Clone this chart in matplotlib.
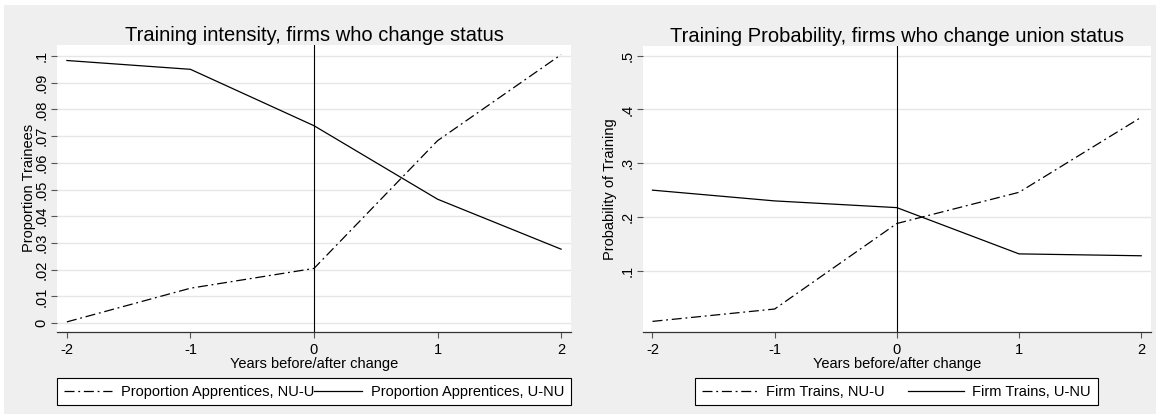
import matplotlib
matplotlib.use("Agg")
import matplotlib.pyplot as plt
from matplotlib.patches import Rectangle

plt.rcParams['font.family'] = ['Liberation Sans', 'DejaVu Sans']

years = [-2, -1, 0, 1, 2]

# left panel: proportion of apprentices
app_nu_u = [0.0005, 0.0131, 0.0205, 0.0683, 0.1005]
app_u_nu = [0.0983, 0.0950, 0.0739, 0.0464, 0.0277]
left_yticks = [0, 0.01, 0.02, 0.03, 0.04, 0.05, 0.06, 0.07, 0.08, 0.09, 0.1]
left_ylabels = ['0', '.01', '.02', '.03', '.04', '.05', '.06', '.07', '.08', '.09', '.1']

# right panel: probability that firm trains
prob_nu_u = [0.006, 0.029, 0.188, 0.246, 0.3855]
prob_u_nu = [0.250, 0.230, 0.2175, 0.1315, 0.128]
right_yticks = [0.1, 0.2, 0.3, 0.4, 0.5]
right_ylabels = ['.1', '.2', '.3', '.4', '.5']

W, H = 1160, 418
bg = '#efefef'
dashdot = (0, (8, 3, 1.5, 3))

fig = plt.figure(figsize=(W / 100, H / 100), dpi=100)
fig.patch.set_facecolor('white')
fig.patches.append(Rectangle((4 / W, 4 / H), 1152 / W, 409 / H, transform=fig.transFigure,
                             facecolor=bg, edgecolor='none', zorder=-10))


def panel(rect, ylim, ticks, ticklabels, nuu, unu, title, ylabel, ylab_x,
          labels, leg_x, hlen, colsp):
    ax = fig.add_axes(rect)
    ax.set_facecolor('white')
    ax.set_xlim(-2.08, 2.08)
    ax.set_ylim(*ylim)
    for t in ticks:
        ax.axhline(t, color='#e6e6e6', lw=1.0, zorder=0)
    ax.axvline(0, color='black', lw=0.8, zorder=1)
    l1, = ax.plot(years, nuu, color='black', lw=0.9, linestyle=dashdot, zorder=2)
    l2, = ax.plot(years, unu, color='black', lw=0.9, zorder=2)
    for s in ['top', 'right', 'left']:
        ax.spines[s].set_visible(False)
    ax.spines['bottom'].set_color('#333333')
    ax.spines['bottom'].set_linewidth(0.9)
    ax.set_xticks(years)
    ax.set_xticklabels([str(y) for y in years])
    ax.set_yticks(ticks)
    ax.set_yticklabels(ticklabels, rotation=90, va='center')
    ax.tick_params(axis='both', direction='out', length=4, width=0.8, color='#555555',
                   labelsize=10.5)
    ax.tick_params(axis='x', pad=4)
    ax.tick_params(axis='y', pad=2)
    ax.set_title(title, fontsize=14.5, pad=3)
    ax.set_xlabel('Years before/after change', fontsize=10.5, labelpad=0)
    ax.set_ylabel(ylabel, fontsize=10.5)
    ax.yaxis.set_label_coords(ylab_x, 0.5)
    leg = fig.legend([l1, l2], labels, ncol=2, loc='center', bbox_to_anchor=(leg_x, 0.063),
                     fontsize=10.5, frameon=True, fancybox=False, edgecolor='black',
                     framealpha=1, handlelength=hlen, columnspacing=colsp, handletextpad=0.6,
                     borderpad=0.45, borderaxespad=0)
    leg.get_frame().set_linewidth(0.8)
    return ax


panel([57 / W, 1 - 331.5 / H, 514 / W, 286.5 / H], (-0.0031, 0.1041),
      left_yticks, left_ylabels, app_nu_u, app_u_nu,
      'Training intensity, firms who change status', 'Proportion Trainees', -0.04,
      ['Proportion Apprentices, NU-U', 'Proportion Apprentices, U-NU'], 314 / W, 3.3, 0.0)

panel([642.7 / W, 1 - 331.5 / H, 508.3 / W, 285.5 / H], (-0.0128, 0.518),
      right_yticks, right_ylabels, prob_nu_u, prob_u_nu,
      'Training Probability, firms who change union status', 'Probability of Training', -0.05,
      ['Firm Trains, NU-U', 'Firm Trains, U-NU'], 896.5 / W, 3.8, 1.6)

fig.savefig('out.png', dpi=100, facecolor=fig.get_facecolor())
